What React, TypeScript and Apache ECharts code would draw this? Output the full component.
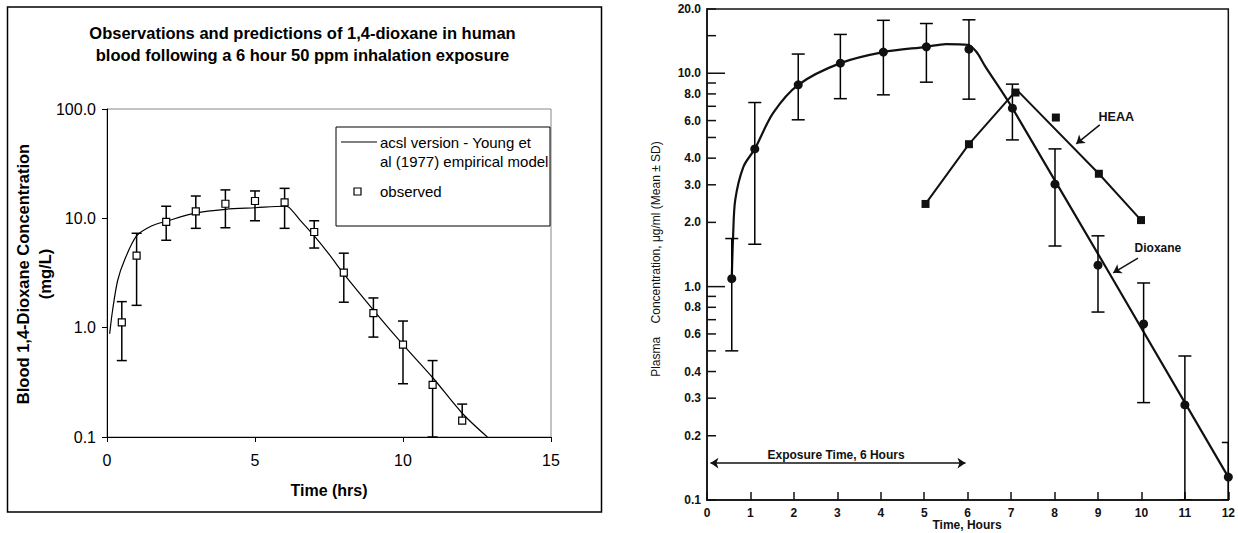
import React, { useEffect, useRef } from "react";
import * as echarts from "echarts";

// ---------- Left chart: Excel-style model vs observations ----------
const obsTime = [0.5, 1, 2, 3, 4, 5, 6, 7, 8, 9, 10, 11, 12];
const obsMean = [1.12, 4.56, 9.3, 11.6, 13.6, 14.4, 14.0, 7.5, 3.19, 1.36, 0.7, 0.3, 0.141];
const obsUpper = [1.73, 7.3, 12.9, 16.0, 18.2, 17.8, 18.8, 9.5, 4.8, 1.87, 1.15, 0.5, 0.2];
const obsLower: (number | null)[] = [0.5, 1.6, 6.3, 8.1, 8.2, 9.5, 8.1, 5.35, 1.71, 0.82, 0.307, 0.1, null];

const modelTime = [0.09, 0.19, 0.36, 0.6, 1.0, 1.5, 2.0, 3.0, 4.0, 5.0, 6.0, 6.15, 6.5, 7.0, 7.5, 8.0, 9.0, 10.0, 11.0, 12.0, 12.85];
const modelConc = [0.88, 1.45, 2.7, 4.2, 6.9, 8.5, 9.4, 11.2, 12.1, 12.5, 12.9, 12.6, 9.8, 6.9, 4.7, 3.1, 1.45, 0.7, 0.35, 0.165, 0.1];

// ---------- Right chart: scanned plasma concentration figure ----------
const dioxTime = [0.57, 1.1, 2.1, 3.07, 4.06, 5.05, 6.03, 7.03, 8.01, 9.0, 10.05, 11.0, 12.0];
const dioxMean = [1.09, 4.42, 8.82, 11.15, 12.56, 13.3, 12.97, 6.86, 3.02, 1.26, 0.668, 0.279, 0.128];
const dioxUpper = [1.68, 7.29, 12.3, 15.2, 17.7, 17.1, 17.8, 8.89, 4.42, 1.73, 1.04, 0.473, 0.186];
const dioxLower = [0.5, 1.58, 6.05, 7.6, 7.92, 9.08, 7.56, 4.87, 1.55, 0.76, 0.286, 0.1, 0.1];

const dioxFitTime = [0.57, 0.6, 0.65, 0.84, 1.1, 1.52, 2.1, 3.07, 4.06, 5.05, 5.5, 6.0, 6.2, 6.4, 7.03, 12.0];
const dioxFitConc = [1.09, 1.7, 2.55, 3.65, 4.42, 6.5, 8.82, 11.15, 12.56, 13.3, 13.7, 13.6, 12.6, 10.8, 6.86, 0.128];

const heaaTime = [5.03, 6.03, 7.1, 8.03, 9.02, 9.99];
const heaaConc = [2.44, 4.65, 8.12, 6.2, 3.38, 2.05];
const heaaFitTime = [5.03, 6.03, 7.13, 9.02, 9.99];
const heaaFitConc = [2.44, 4.65, 8.36, 3.38, 2.05];

const rightYLabels = [20, 10, 8, 6, 4, 3, 2, 1, 0.8, 0.6, 0.4, 0.3, 0.2, 0.1];
const rightYMinor = [15, 9, 7, 5, 0.9, 0.7, 0.5];
const rightYLong = [10, 1];

const FONT = '"Liberation Sans", Arial, sans-serif';

function errRender(capHalf: number, width: number) {
  return (params: any, api: any) => {
    const x = api.value(0);
    const lo = api.value(1);
    const hi = api.value(2);
    const capLo = api.value(3);
    const pHi = api.coord([x, hi]);
    const pLo = api.coord([x, lo]);
    const st = { stroke: "#000", lineWidth: width };
    const children: any[] = [
      { type: "line", shape: { x1: pHi[0], y1: pHi[1], x2: pLo[0], y2: pLo[1] }, style: st },
      { type: "line", shape: { x1: pHi[0] - capHalf, y1: pHi[1], x2: pHi[0] + capHalf, y2: pHi[1] }, style: st },
    ];
    if (capLo) {
      children.push({ type: "line", shape: { x1: pLo[0] - capHalf, y1: pLo[1], x2: pLo[0] + capHalf, y2: pLo[1] }, style: st });
    }
    return { type: "group", children };
  };
}

export default function App() {
  const ref = useRef<HTMLDivElement>(null);
  useEffect(() => {
    if (!ref.current) return;
    const chart = echarts.init(ref.current, null, { renderer: "svg" });

    const leftErr = obsTime.map((t, i) => [
      t,
      obsLower[i] == null ? obsMean[i] : (obsLower[i] as number),
      obsUpper[i],
      obsLower[i] == null ? 0 : 1,
    ]);
    const rightErr = dioxTime.map((t, i) => [t, dioxLower[i], dioxUpper[i], 1]);

    const option: any = {
      animation: false,
      backgroundColor: "#fff",
      grid: [
        { left: 107, top: 109, width: 444, height: 328, show: true, borderColor: "#888", borderWidth: 1 },
        { left: 707, top: 9, width: 524, height: 491, show: true, borderColor: "#111", borderWidth: 1.5 },
      ],
      xAxis: [
        {
          gridIndex: 0, type: "value", min: 0, max: 15, interval: 5,
          axisLine: { show: true, onZero: false, lineStyle: { color: "#000", width: 1 } },
          axisTick: { show: true, inside: false, length: 5, lineStyle: { color: "#000" } },
          axisLabel: { fontSize: 16, color: "#000", margin: 15, fontFamily: FONT },
          splitLine: { show: false },
          name: "Time (hrs)", nameLocation: "middle", nameGap: 45,
          nameTextStyle: { fontSize: 16, fontWeight: "bold", color: "#000", fontFamily: FONT },
        },
        {
          gridIndex: 1, type: "value", min: 0, max: 12, interval: 1,
          axisLine: { show: true, onZero: false, lineStyle: { color: "#111", width: 1.5 } },
          axisTick: { show: true, inside: true, length: 8, lineStyle: { color: "#111", width: 1.5 } },
          axisLabel: { fontSize: 12, fontWeight: "bold", color: "#111", margin: 7, fontFamily: FONT },
          splitLine: { show: false },
        },
      ],
      yAxis: [
        {
          gridIndex: 0, type: "log", logBase: 10, min: 0.1, max: 100,
          axisLine: { show: true, onZero: false, lineStyle: { color: "#000", width: 1 } },
          axisTick: { show: true, inside: false, length: 5, lineStyle: { color: "#000" } },
          axisLabel: { fontSize: 16, color: "#000", margin: 11, fontFamily: FONT, formatter: (v: number) => Number(v).toFixed(1) },
          splitLine: { show: false },
          minorTick: { show: false },
        },
        {
          gridIndex: 1, type: "log", logBase: 10, min: 0.1, max: 20,
          axisLine: { show: true, onZero: false, lineStyle: { color: "#111", width: 1.5 } },
          axisTick: { show: false },
          axisLabel: { show: false },
          splitLine: { show: false },
        },
      ],
      series: [
        {
          name: "model", type: "line", xAxisIndex: 0, yAxisIndex: 0,
          data: modelTime.map((t, i) => [t, modelConc[i]]),
          showSymbol: false, smooth: 0.3, z: 2,
          lineStyle: { color: "#000", width: 1.2 },
        },
        {
          name: "obsErr", type: "custom", xAxisIndex: 0, yAxisIndex: 0,
          data: leftErr, renderItem: errRender(5, 1.5), clip: true, z: 3,
        },
        {
          name: "observed", type: "scatter", xAxisIndex: 0, yAxisIndex: 0,
          data: obsTime.map((t, i) => [t, obsMean[i]]),
          symbol: "rect", symbolSize: 7, z: 4,
          itemStyle: { color: "#fff", borderColor: "#000", borderWidth: 1.2, opacity: 1 },
        },
        {
          name: "dioxFit", type: "line", xAxisIndex: 1, yAxisIndex: 1,
          data: dioxFitTime.map((t, i) => [t, dioxFitConc[i]]),
          showSymbol: false, smooth: 0.3, z: 2,
          lineStyle: { color: "#111", width: 2.2 },
        },
        {
          name: "dioxErr", type: "custom", xAxisIndex: 1, yAxisIndex: 1,
          data: rightErr, renderItem: errRender(6.5, 1.5), clip: true, z: 3,
        },
        {
          name: "dioxane", type: "scatter", xAxisIndex: 1, yAxisIndex: 1,
          data: dioxTime.map((t, i) => [t, dioxMean[i]]),
          symbol: "circle", symbolSize: 9, z: 4,
          itemStyle: { color: "#111", opacity: 1 },
        },
        {
          name: "heaaFit", type: "line", xAxisIndex: 1, yAxisIndex: 1,
          data: heaaFitTime.map((t, i) => [t, heaaFitConc[i]]),
          showSymbol: false, z: 2,
          lineStyle: { color: "#111", width: 2 },
          markLine: {
            silent: true, animation: false, symbolSize: 8,
            label: { show: false },
            lineStyle: { color: "#111", type: "solid", width: 1.5 },
            data: [
              [{ coord: [0.08, 0.149], symbol: "arrow" }, { coord: [5.95, 0.149], symbol: "arrow" }],
              [{ coord: [9.04, 5.73], symbol: "none" }, { coord: [8.5, 4.67], symbol: "arrow" }],
              [{ coord: [9.92, 1.36], symbol: "none" }, { coord: [9.35, 1.16], symbol: "arrow" }],
            ],
          },
        },
        {
          name: "HEAA", type: "scatter", xAxisIndex: 1, yAxisIndex: 1,
          data: heaaTime.map((t, i) => [t, heaaConc[i]]),
          symbol: "rect", symbolSize: 8, z: 4,
          itemStyle: { color: "#111", opacity: 1 },
        },
        {
          name: "annot", type: "custom", xAxisIndex: 1, yAxisIndex: 1, clip: false, z: 5,
          data: [[9.42, 6.22, 0], [10.38, 1.51, 1], [2.97, 0.1625, 2]],
          renderItem: (params: any, api: any) => {
            const texts = ["HEAA", "Dioxane", "Exposure Time, 6 Hours"];
            const sizes = [12.5, 12, 12];
            const k = api.value(2);
            const p = api.coord([api.value(0), api.value(1)]);
            return {
              type: "text", x: p[0], y: p[1],
              style: {
                text: texts[k], textAlign: "center", textVerticalAlign: "middle",
                fontSize: sizes[k], fontWeight: "bold", fontFamily: FONT, fill: "#111",
              },
            };
          },
        },
        {
          name: "yLabels", type: "custom", xAxisIndex: 1, yAxisIndex: 1, clip: false, z: 5,
          data: rightYLabels.map((v) => [0, v]),
          renderItem: (params: any, api: any) => {
            const v = api.value(1);
            const p = api.coord([0, v]);
            const len = rightYLong.indexOf(v) >= 0 ? 18 : 9;
            return {
              type: "group",
              children: [
                { type: "line", shape: { x1: p[0], y1: p[1], x2: p[0] + len, y2: p[1] }, style: { stroke: "#111", lineWidth: 1.5 } },
                {
                  type: "text", x: p[0] - 6, y: p[1],
                  style: {
                    text: Number(v).toFixed(1), textAlign: "right", textVerticalAlign: "middle",
                    fontSize: 12, fontWeight: "bold", fontFamily: FONT, fill: "#111",
                  },
                },
              ],
            };
          },
        },
        {
          name: "yMinor", type: "custom", xAxisIndex: 1, yAxisIndex: 1, clip: false, z: 5,
          data: rightYMinor.map((v) => [0, v]),
          renderItem: (params: any, api: any) => {
            const p = api.coord([0, api.value(1)]);
            return { type: "line", shape: { x1: p[0], y1: p[1], x2: p[0] + 9, y2: p[1] }, style: { stroke: "#111", lineWidth: 1.5 } };
          },
        },
      ],
      graphic: [
        { type: "rect", shape: { x: 7.5, y: 7, width: 594, height: 505 }, style: { fill: "none", stroke: "#000", lineWidth: 1.5 }, z: 10 },
        {
          type: "text", x: 302.5, y: 33,
          style: { text: "Observations and predictions of 1,4-dioxane in human", textAlign: "center", textVerticalAlign: "middle", fontSize: 16.5, fontWeight: "bold", fontFamily: FONT, fill: "#000" },
        },
        {
          type: "text", x: 302.5, y: 55,
          style: { text: "blood following a 6 hour 50 ppm inhalation exposure", textAlign: "center", textVerticalAlign: "middle", fontSize: 16.5, fontWeight: "bold", fontFamily: FONT, fill: "#000" },
        },
        {
          type: "text", x: 23, y: 274, rotation: Math.PI / 2,
          style: { text: "Blood 1,4-Dioxane Concentration", textAlign: "center", textVerticalAlign: "middle", fontSize: 16.5, fontWeight: "bold", fontFamily: FONT, fill: "#000" },
        },
        {
          type: "text", x: 45, y: 274, rotation: Math.PI / 2,
          style: { text: "(mg/L)", textAlign: "center", textVerticalAlign: "middle", fontSize: 16.5, fontWeight: "bold", fontFamily: FONT, fill: "#000" },
        },
        {
          type: "text", x: 656, y: 259, rotation: Math.PI / 2,
          style: { text: "Plasma    Concentration, \u03bcg/ml (Mean \u00b1 SD)", textAlign: "center", textVerticalAlign: "middle", fontSize: 12, fontFamily: FONT, fill: "#111" },
        },
        {
          type: "text", x: 967, y: 525,
          style: { text: "Time, Hours", textAlign: "center", textVerticalAlign: "middle", fontSize: 12, fontWeight: "bold", fontFamily: FONT, fill: "#111" },
        },
        { type: "rect", shape: { x: 336, y: 127, width: 214, height: 99 }, style: { fill: "#fff", stroke: "#000", lineWidth: 1 }, z: 20 },
        { type: "line", shape: { x1: 341, y1: 142, x2: 377, y2: 142 }, style: { stroke: "#000", lineWidth: 1.2 }, z: 21 },
        { type: "rect", shape: { x: 354, y: 188, width: 7, height: 7 }, style: { fill: "#fff", stroke: "#000", lineWidth: 1.2 }, z: 21 },
        {
          type: "text", x: 380, y: 142, z: 21,
          style: { text: "acsl version - Young et", textAlign: "left", textVerticalAlign: "middle", fontSize: 15, fontFamily: FONT, fill: "#000" },
        },
        {
          type: "text", x: 380, y: 161, z: 21,
          style: { text: "al (1977) empirical model", textAlign: "left", textVerticalAlign: "middle", fontSize: 15, fontFamily: FONT, fill: "#000" },
        },
        {
          type: "text", x: 380, y: 191, z: 21,
          style: { text: "observed", textAlign: "left", textVerticalAlign: "middle", fontSize: 15, fontFamily: FONT, fill: "#000" },
        },
      ],
    };
    chart.setOption(option);
    return () => chart.dispose();
  }, []);
  return (
    <div
      ref={ref}
      style={{ position: "fixed", left: 0, top: 0, width: 1238, height: 533, background: "#fff" }}
    />
  );
}
